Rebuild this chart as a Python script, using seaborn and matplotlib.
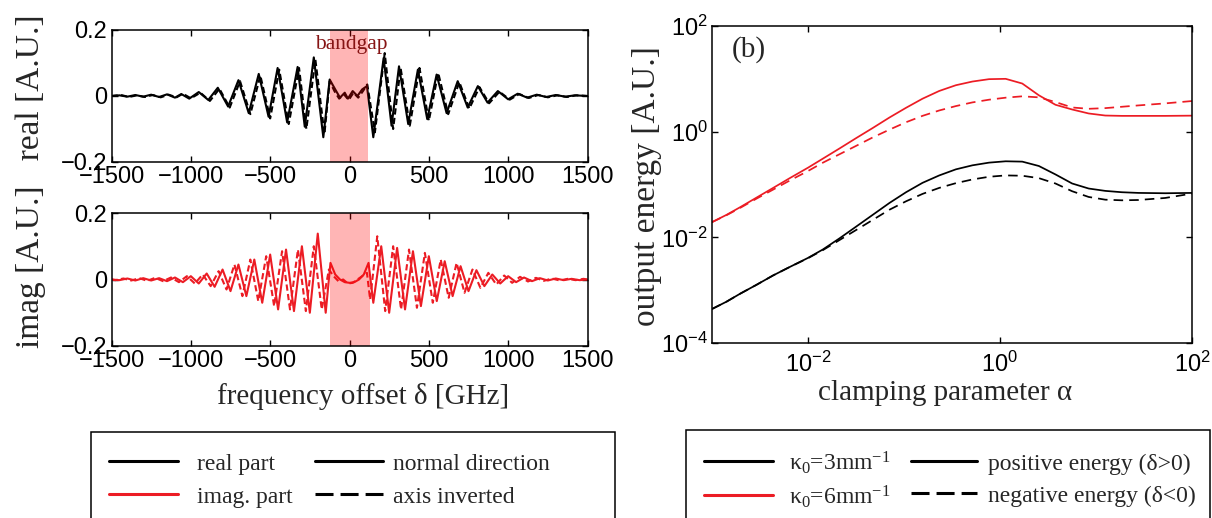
import matplotlib
matplotlib.use("Agg")
import matplotlib.pyplot as plt
import seaborn as sns
import pandas as pd
from matplotlib.lines import Line2D
from matplotlib.patches import Rectangle
from matplotlib.ticker import FixedLocator, FixedFormatter, NullLocator

# ---------------- data ----------------
real_solid_delta = [-1500, -1450, -1400, -1350, -1300, -1250, -1200, -1150, -1100, -1060, -1010,
                    -950, -890, -830, -765, -700, -635, -572, -510, -453, -393, -327, -282, -225,
                    -165, -125, -90, -60, -30, -10, 20, 50, 80, 110, 150, 215, 265, 312, 370, 431,
                    490, 549, 612, 682, 745, 809, 870, 935, 1000, 1060, 1120, 1180, 1240, 1300,
                    1360, 1420, 1500]
real_solid_value = [0.0, 0.002, -0.002, 0.003, -0.002, 0.004, -0.003, 0.005, -0.005, 0.006, -0.008,
                    0.012, -0.012, 0.025, -0.032, 0.048, -0.052, 0.067, -0.063, 0.085, -0.080, 0.088,
                    -0.093, 0.117, -0.125, 0.050, 0.020, -0.005, 0.010, -0.008, 0.015, 0.000, 0.020,
                    0.030, -0.125, 0.115, -0.090, 0.090, -0.085, 0.080, -0.070, 0.065, -0.052, 0.045,
                    -0.035, 0.030, -0.020, 0.015, -0.010, 0.007, -0.005, 0.004, -0.003, 0.003,
                    -0.002, 0.002, 0.0]

real_dash_delta = [-1500, -1440, -1390, -1340, -1290, -1240, -1190, -1140, -1090, -1050, -1000,
                   -940, -880, -820, -755, -690, -625, -562, -500, -443, -383, -318, -272, -215,
                   -158, -125, -95, -65, -35, -5, 25, 55, 85, 112, 160, 222, 275, 322, 380, 441,
                   500, 559, 622, 692, 755, 819, 880, 945, 1010, 1070, 1130, 1190, 1250, 1310,
                   1370, 1430, 1500]
real_dash_value = [0.0, 0.003, -0.003, 0.002, -0.003, 0.003, -0.004, 0.004, -0.004, 0.007, -0.007,
                   0.010, -0.015, 0.022, -0.035, 0.045, -0.055, 0.062, -0.068, 0.080, -0.085, 0.085,
                   -0.100, 0.110, -0.115, 0.045, 0.015, -0.008, 0.005, -0.012, 0.010, -0.005, 0.015,
                   0.035, -0.110, 0.130, -0.100, 0.085, -0.090, 0.085, -0.075, 0.070, -0.055, 0.042,
                   -0.038, 0.027, -0.022, 0.013, -0.011, 0.006, -0.006, 0.003, -0.004, 0.002,
                   -0.003, 0.002, 0.0]

imag_solid_delta = [-1500, -1450, -1400, -1350, -1300, -1250, -1200, -1150, -1100, -1050, -1000,
                    -950, -900, -850, -800, -750, -700, -650, -600, -550, -500, -450, -400, -350,
                    -300, -250, -200, -150, -120, -90, -60, -30, 0, 30, 60, 90, 120, 150, 200, 250,
                    300, 350, 400, 450, 500, 550, 600, 650, 700, 750, 800, 850, 900, 950, 1000,
                    1050, 1100, 1150, 1200, 1250, 1300, 1350, 1400, 1450, 1500]
imag_solid_value = [0.0, -0.002, 0.003, -0.003, 0.004, -0.003, 0.004, -0.005, 0.006, -0.008, 0.010,
                    -0.012, 0.018, -0.022, 0.030, -0.035, 0.045, -0.050, 0.060, -0.070, 0.075,
                    -0.090, 0.090, -0.095, 0.100, -0.100, 0.138, -0.100, 0.050, 0.015, 0.000,
                    -0.008, -0.010, -0.008, 0.000, 0.015, 0.050, -0.070, 0.100, -0.100, 0.095,
                    -0.090, 0.085, -0.080, 0.070, -0.065, 0.055, -0.050, 0.040, -0.035, 0.028,
                    -0.020, 0.015, -0.012, 0.010, -0.008, 0.006, -0.005, 0.004, -0.003, 0.003,
                    -0.002, 0.002, -0.002, 0.0]

imag_dash_delta = [-1500, -1475, -1425, -1375, -1325, -1275, -1225, -1175, -1125, -1075, -1025,
                   -975, -925, -875, -825, -775, -725, -675, -625, -575, -525, -475, -425, -375,
                   -325, -275, -225, -175, -130, -100, -70, -40, -10, 20, 50, 80, 110, 130, 175,
                   225, 275, 325, 375, 425, 475, 525, 575, 625, 675, 725, 775, 825, 875, 925, 975,
                   1025, 1075, 1125, 1175, 1225, 1275, 1325, 1375, 1425, 1475, 1500]
imag_dash_value = [0.0, -0.002, 0.003, -0.003, 0.004, -0.004, 0.005, -0.005, 0.006, -0.008, 0.010,
                   -0.012, 0.015, -0.020, 0.025, -0.030, 0.045, -0.050, 0.060, -0.065, 0.070,
                   -0.080, 0.085, -0.090, 0.090, -0.095, 0.100, -0.090, 0.030, 0.010, -0.005,
                   0.000, -0.012, -0.010, 0.000, 0.010, 0.020, -0.060, 0.130, -0.095, 0.100,
                   -0.090, 0.090, -0.085, 0.080, -0.070, 0.060, -0.055, 0.050, -0.040, 0.030,
                   -0.025, 0.020, -0.015, 0.012, -0.010, 0.008, -0.006, 0.005, -0.004, 0.003,
                   -0.003, 0.002, -0.002, 0.002, 0.0]

bandgap_top = [-123, 115]
bandgap_bottom = [-123, 128]

alpha = [1.0e-3, 1.42e-3, 1.95e-3, 2.91e-3, 4.34e-3, 6.46e-3, 0.01, 0.0143, 0.0213, 0.0318,
         0.0473, 0.0705, 0.105, 0.156, 0.233, 0.347, 0.516, 0.769, 1.146, 1.706, 2.54, 3.78,
         5.64, 8.39, 12.5, 18.6, 27.7, 52.5, 100.0]
E_k6_pos = [0.0194, 0.0267, 0.0369, 0.0565, 0.0863, 0.132, 0.208, 0.309, 0.481, 0.757, 1.175,
            1.852, 2.83, 4.21, 5.90, 7.57, 8.89, 9.86, 10.0, 8.15, 4.88, 3.23, 2.63, 2.21, 2.02,
            1.99, 1.99, 1.99, 2.01]
E_k6_neg = [0.0194, 0.0263, 0.0358, 0.054, 0.0802, 0.119, 0.180, 0.259, 0.374, 0.540, 0.779,
            1.092, 1.508, 1.993, 2.52, 3.05, 3.58, 4.03, 4.40, 4.67, 4.46, 3.64, 2.87, 2.71,
            2.79, 2.96, 3.14, 3.43, 3.80]
E_k3_pos = [4.40e-4, 6.07e-4, 8.51e-4, 1.264e-3, 1.905e-3, 2.75e-3, 4.08e-3, 5.90e-3, 9.57e-3,
            0.0160, 0.0267, 0.0447, 0.0714, 0.1076, 0.1486, 0.1936, 0.2307, 0.2594, 0.2750,
            0.2710, 0.2240, 0.1552, 0.1045, 0.0839, 0.0757, 0.0714, 0.0693, 0.0683, 0.0693]
E_k3_neg = [4.40e-4, 6.07e-4, 8.51e-4, 1.264e-3, 1.905e-3, 2.75e-3, 4.03e-3, 5.73e-3, 8.89e-3,
            0.0138, 0.0214, 0.0333, 0.0481, 0.0664, 0.0863, 0.106, 0.1246, 0.140, 0.1486,
            0.1465, 0.132, 0.1045, 0.0746, 0.0581, 0.0516, 0.0502, 0.0509, 0.0556, 0.0673]

freq_ticks = [-1500, -1000, -500, 0, 500, 1000, 1500]
amp_ticks = [-0.2, 0, 0.2]
amp_labels = ["\u22120.2", "0", "0.2"]
alpha_ticks = [1e-2, 1e0, 1e2]
energy_ticks = [1e-4, 1e-2, 1e0, 1e2]

legend_left_col1 = ["real part", "imag. part"]
legend_left_col2 = ["normal direction", "axis inverted"]
legend_right_col1 = ["\u03ba$_0$=3mm$^{-1}$", "\u03ba$_0$=6mm$^{-1}$"]
legend_right_col2 = ["positive energy (\u03b4>0)", "negative energy (\u03b4<0)"]

# ---------------- style ----------------
sns.set_theme(style="white")
plt.rcParams.update({
    "font.family": ["Liberation Sans", "DejaVu Sans"],
    "mathtext.fontset": "custom",
    "mathtext.rm": "Liberation Serif",
    "mathtext.it": "Liberation Serif:italic",
    "mathtext.bf": "Liberation Serif:bold",
    "axes.edgecolor": "black",
    "axes.linewidth": 1.1,
    "xtick.direction": "in", "ytick.direction": "in",
    "xtick.bottom": True, "ytick.left": True,
    "xtick.top": True, "ytick.right": True,
    "xtick.major.size": 4, "ytick.major.size": 4,
    "xtick.major.width": 1.0, "ytick.major.width": 1.0,
    "xtick.color": "black", "ytick.color": "black",
    "xtick.labelsize": 17, "ytick.labelsize": 17,
    "xtick.major.pad": 3, "ytick.major.pad": 3,
    "axes.facecolor": "white", "figure.facecolor": "white",
})
SERIF = ["Liberation Serif", "DejaVu Serif"]
RED = "#ec1c24"

W, H = 1212, 518
fig = plt.figure(figsize=(W / 100, H / 100), dpi=100)


def rect(x0, y0, x1, y1):
    return [x0 / W, 1 - y1 / H, (x1 - x0) / W, (y1 - y0) / H]


ax1 = fig.add_axes(rect(111.5, 30, 587.5, 162))
ax2 = fig.add_axes(rect(111.5, 213, 587.5, 346))
ax3 = fig.add_axes(rect(712, 26, 1192, 343))

small_dash = (0, (3.0, 1.6))

# top panel: real part
sns.lineplot(x=real_solid_delta, y=real_solid_value, ax=ax1, color="black", lw=1.5,
             estimator=None, sort=False, legend=False)
sns.lineplot(x=real_dash_delta, y=real_dash_value, ax=ax1, color="black", lw=1.5,
             linestyle=small_dash, estimator=None, sort=False, legend=False)
ax1.axvspan(*bandgap_top, color="red", alpha=0.29, lw=0, zorder=5)
ax1.text(10, 0.155, "bandgap", ha="center", va="center", color="#861414",
         family=SERIF, fontsize=15.5, zorder=6)

# bottom panel: imaginary part
sns.lineplot(x=imag_solid_delta, y=imag_solid_value, ax=ax2, color=RED, lw=1.5,
             estimator=None, sort=False, legend=False)
sns.lineplot(x=imag_dash_delta, y=imag_dash_value, ax=ax2, color=RED, lw=1.5,
             linestyle=small_dash, estimator=None, sort=False, legend=False)
ax2.axvspan(*bandgap_bottom, color="red", alpha=0.29, lw=0, zorder=5)

for ax in (ax1, ax2):
    ax.set_xlim(-1500, 1500)
    ax.set_ylim(-0.2, 0.2)
    ax.xaxis.set_major_locator(FixedLocator(freq_ticks))
    ax.yaxis.set_major_locator(FixedLocator(amp_ticks))
    ax.yaxis.set_major_formatter(FixedFormatter(amp_labels))
    ax.set_xlabel("")
    ax.set_ylabel("")
    for s in ax.spines.values():
        s.set_visible(True)
        s.set_zorder(7)

# right panel: output energy
big_dash = (0, (5.5, 3.5))
sns.lineplot(x=alpha, y=E_k3_pos, ax=ax3, color="black", lw=1.25, estimator=None, sort=False, legend=False)
sns.lineplot(x=alpha, y=E_k3_neg, ax=ax3, color="black", lw=1.25, linestyle=big_dash,
             estimator=None, sort=False, legend=False)
sns.lineplot(x=alpha, y=E_k6_pos, ax=ax3, color=RED, lw=1.25, estimator=None, sort=False, legend=False)
sns.lineplot(x=alpha, y=E_k6_neg, ax=ax3, color=RED, lw=1.25, linestyle=big_dash,
             estimator=None, sort=False, legend=False)
ax3.set_xscale("log")
ax3.set_yscale("log")
ax3.set_xlim(1e-3, 1e2)
ax3.set_ylim(1e-4, 1e2)
ax3.xaxis.set_major_locator(FixedLocator(alpha_ticks))
ax3.yaxis.set_major_locator(FixedLocator(energy_ticks))
ax3.xaxis.set_minor_locator(NullLocator())
ax3.yaxis.set_minor_locator(NullLocator())
ax3.set_xlabel("")
ax3.set_ylabel("")
ax3.tick_params(axis="x", pad=6)
for s in ax3.spines.values():
    s.set_visible(True)
ax3.text(0.076, 0.926, "(b)", transform=ax3.transAxes, ha="center", va="center",
         family=SERIF, fontsize=21)

# axis labels
def ftext(x, y, s, **kw):
    fig.text(x / W, 1 - y / H, s, ha="center", va="center", family=SERIF, **kw)

ftext(31, 181, "imag [A.U.]   real [A.U.]", rotation=90, fontsize=24)
ftext(363, 396, "frequency offset \u03b4 [GHz]", fontsize=21)
ftext(647, 186, "output energy [A.U.]", rotation=90, fontsize=24)
ftext(945, 393, "clamping parameter \u03b1", fontsize=21)

# legends (one legend per column so that each column gets its own spacing)
leg_dash = (0, (5.9, 2.3))
LW = 2.2


def handles(colors_styles):
    return [Line2D([0], [0], color=c, lw=LW, linestyle=ls) for c, ls in colors_styles]


prop = {"family": SERIF, "size": 17}
common = dict(loc="upper left", frameon=False, borderpad=0, borderaxespad=0, prop=prop)
legend_specs = [
    (legend_left_col1, [("black", "-"), (RED, "-")], 108.7, 453, 2.92, 0.80, 0.49),
    (legend_left_col2, [("black", "-"), ("black", leg_dash)], 315, 453, 2.88, 0.42, 0.49),
    (legend_right_col1, [("black", "-"), (RED, "-")], 704, 449, 2.92, 0.68, 0.32),
    (legend_right_col2, [("black", "-"), ("black", leg_dash)], 911, 453, 2.80, 0.47, 0.45),
]
for labels, cs, x, y, hl, htp, ls in legend_specs:
    fig.legend(handles(cs), labels, bbox_to_anchor=(x / W, 1 - y / H), handlelength=hl,
               handletextpad=htp, labelspacing=ls, **common)

for (x0, y0, x1) in [(91, 432, 615), (686, 430, 1210)]:
    fig.patches.append(Rectangle((x0 / W, 1 - 540 / H), (x1 - x0) / W, (540 - y0) / H,
                                 transform=fig.transFigure, fill=False, ec="black", lw=1.1))

fig.savefig("out.png", dpi=100)
